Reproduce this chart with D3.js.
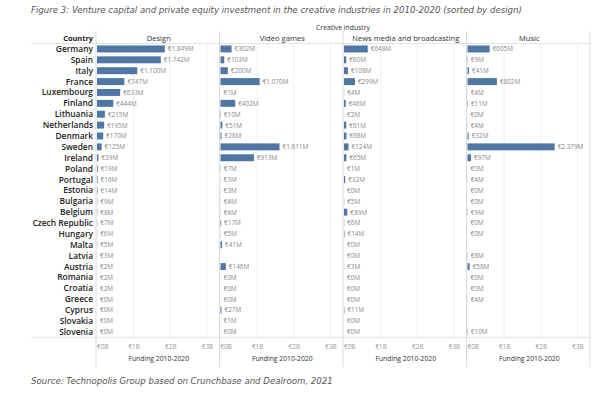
<!DOCTYPE html>
<html>
<head>
<meta charset="utf-8">
<script src="https://cdn.jsdelivr.net/npm/d3@7"></script>
<style>
  body { margin: 0; background: #fff; }
  svg { display: block; }
</style>
</head>
<body>
<script>
// countries in the order of the chart (sorted by design)
const countries = ["Germany", "Spain", "Italy", "France", "Luxembourg", "Finland", "Lithuania",
  "Netherlands", "Denmark", "Sweden", "Ireland", "Poland", "Portugal", "Estonia", "Bulgaria",
  "Belgium", "Czech Republic", "Hungary", "Malta", "Latvia", "Austria", "Romania", "Croatia",
  "Greece", "Cyprus", "Slovakia", "Slovenia"];

const industries = ["Design", "Video games", "News media and broadcasting", "Music"];

// funding in million euro, null = no data
const design = [1849, 1742, 1100, 747, 633, 444, 215, 195, 170, 125, 39, 19, 16, 14, 9,
  8, 7, 6, 5, 3, 2, 2, 2, 0, 0, 0, 0];
const videoGames = [302, 103, 200, 1070, 1, 402, 10, 51, 28, 1611, 913, 7, 3, 3, 4,
  4, 17, 5, 41, null, 146, 0, 0, 0, 27, 1, 0];
const news = [648, 60, 108, 299, 4, 46, 2, 61, 68, 124, 65, 1, 32, 0, 5,
  89, 6, 14, 0, 0, 3, 0, 0, 0, 11, 0, 0];
const music = [605, 9, 41, 802, 4, 11, 0, 4, 32, 2379, 97, 0, 4, 0, 0,
  9, 0, 0, null, 8, 58, 0, 0, 4, null, null, 10];

const tickValues = [0, 1000, 2000, 3000];
const tickLabels = ["€0B", "€1B", "€2B", "€3B"];

const series = [design, videoGames, news, music];

const w = 615;
const h = 403;
const left = 31;
const labelCol = 96;
const right = 590;
const rowTop = 43.5;
const rowBottom = 337.3;
const lineTop = 31;
const lineBottom = 367;
const panelW = (right - labelCol) / industries.length;

const fmt = function(v) {
  return "€" + d3.format(",")(v).replace(/,/g, ".") + "M";
};

let svg = d3.select("body")
  .append("svg")
  .attr("width", w)
  .attr("height", h);

// title and source
svg.append("text")
  .attr("x", left)
  .attr("y", 13)
  .attr("fill", "#555")
  .style("font-family", "DejaVu Sans")
  .style("font-style", "italic")
  .style("font-size", "8.6px")
  .text("Figure 3: Venture capital and private equity investment in the creative industries in 2010-2020 (sorted by design)");

svg.append("text")
  .attr("x", left)
  .attr("y", 384)
  .attr("fill", "#555")
  .style("font-family", "DejaVu Sans")
  .style("font-style", "italic")
  .style("font-size", "8.6px")
  .text("Source: Technopolis Group based on Crunchbase and Dealroom, 2021");

// scales
let yScale = d3.scaleBand()
  .domain(countries)
  .range([rowTop, rowBottom])
  .paddingInner(0.36)
  .paddingOuter(0.18);

let xScale = d3.scaleLinear()
  .domain([0, 3370])
  .range([0, panelW]);

let panelX = d3.scaleBand()
  .domain(industries)
  .range([labelCol, right]);

svg.append("text")
  .attr("x", (labelCol + right) / 2)
  .attr("y", 29.5)
  .attr("text-anchor", "middle")
  .attr("fill", "#333")
  .style("font-family", "Open Sans")
  .style("font-size", "6.8px")
  .text("Creative industry");

svg.append("text")
  .attr("x", labelCol - 3)
  .attr("y", 40.5)
  .attr("text-anchor", "end")
  .attr("fill", "#222")
  .style("font-family", "Open Sans")
  .style("font-weight", 700)
  .style("font-size", "7.4px")
  .text("Country");

// country labels
svg.selectAll(".country")
  .data(countries)
  .enter()
  .append("text")
  .attr("class", "country")
  .attr("x", labelCol - 3)
  .attr("y", function(d) { return yScale(d) + yScale.bandwidth() / 2 + 3; })
  .attr("text-anchor", "end")
  .attr("fill", "#222")
  .style("font-family", "Open Sans")
  .style("font-weight", 600)
  .style("font-size", "8.4px")
  .text(function(d) { return d; });

industries.forEach(function(industry, k) {
  const x0 = panelX(industry) + 1;
  let g = svg.append("g")
    .attr("transform", "translate(" + x0 + ",0)");

  // faint gridlines
  g.selectAll(".grid")
    .data(tickValues.slice(1))
    .enter()
    .append("line")
    .attr("x1", function(d) { return xScale(d); })
    .attr("x2", function(d) { return xScale(d); })
    .attr("y1", rowTop)
    .attr("y2", rowBottom)
    .attr("stroke", "#f0f0f0")
    .attr("stroke-width", 1);

  // panel header
  g.append("text")
    .attr("x", panelW / 2)
    .attr("y", 40.5)
    .attr("text-anchor", "middle")
    .attr("fill", "#333")
    .style("font-family", "Open Sans")
    .style("font-size", "7.6px")
    .text(industry);

  const rows = countries.map(function(c, i) { return [c, series[k][i]]; })
    .filter(function(d) { return d[1] !== null; });

  g.selectAll("rect")
    .data(rows)
    .enter()
    .append("rect")
    .attr("x", 0)
    .attr("y", function(d) { return yScale(d[0]); })
    .attr("width", function(d) { return xScale(d[1]); })
    .attr("height", yScale.bandwidth())
    .attr("fill", "#4e77a5");

  g.selectAll(".value")
    .data(rows)
    .enter()
    .append("text")
    .attr("class", "value")
    .attr("x", function(d) { return xScale(d[1]) + 3; })
    .attr("y", function(d) { return yScale(d[0]) + yScale.bandwidth() / 2 + 2.4; })
    .attr("fill", "#888")
    .style("font-family", "Open Sans")
    .style("font-size", "6.4px")
    .text(function(d) { return fmt(d[1]); });

  // axis
  let xAxis = d3.axisBottom(xScale)
    .tickValues(tickValues)
    .tickSize(0)
    .tickFormat(function(d, i) { return tickLabels[i]; });

  let ax = g.append("g")
    .attr("transform", "translate(0," + (rowBottom + 4) + ")")
    .call(xAxis);
  ax.select(".domain").remove();
  ax.selectAll("text")
    .attr("fill", "#999")
    .style("font-family", "Open Sans")
    .style("font-size", "6.4px")
    .attr("text-anchor", function(d) { return d === 0 ? "start" : "middle"; })
    .attr("dx", function(d) { return d === 0 ? "-0.5" : "0"; });

  g.append("text")
    .attr("x", panelW / 2)
    .attr("y", 361)
    .attr("text-anchor", "middle")
    .attr("fill", "#333")
    .style("font-family", "Open Sans")
    .style("font-size", "6.8px")
    .text("Funding 2010-2020");
});

// frame lines
svg.append("line")
  .attr("x1", left).attr("x2", right)
  .attr("y1", rowTop).attr("y2", rowTop)
  .attr("stroke", "#e2e2e2");
svg.append("line")
  .attr("x1", left).attr("x2", right)
  .attr("y1", rowBottom).attr("y2", rowBottom)
  .attr("stroke", "#e2e2e2");

const seps = [labelCol].concat(industries.map(function(d) { return panelX(d) + panelW; }));
svg.selectAll(".sep")
  .data(seps)
  .enter()
  .append("line")
  .attr("class", "sep")
  .attr("x1", function(d) { return d; })
  .attr("x2", function(d) { return d; })
  .attr("y1", lineTop)
  .attr("y2", lineBottom)
  .attr("stroke", "#dcdcdc");
</script>
</body>
</html>
